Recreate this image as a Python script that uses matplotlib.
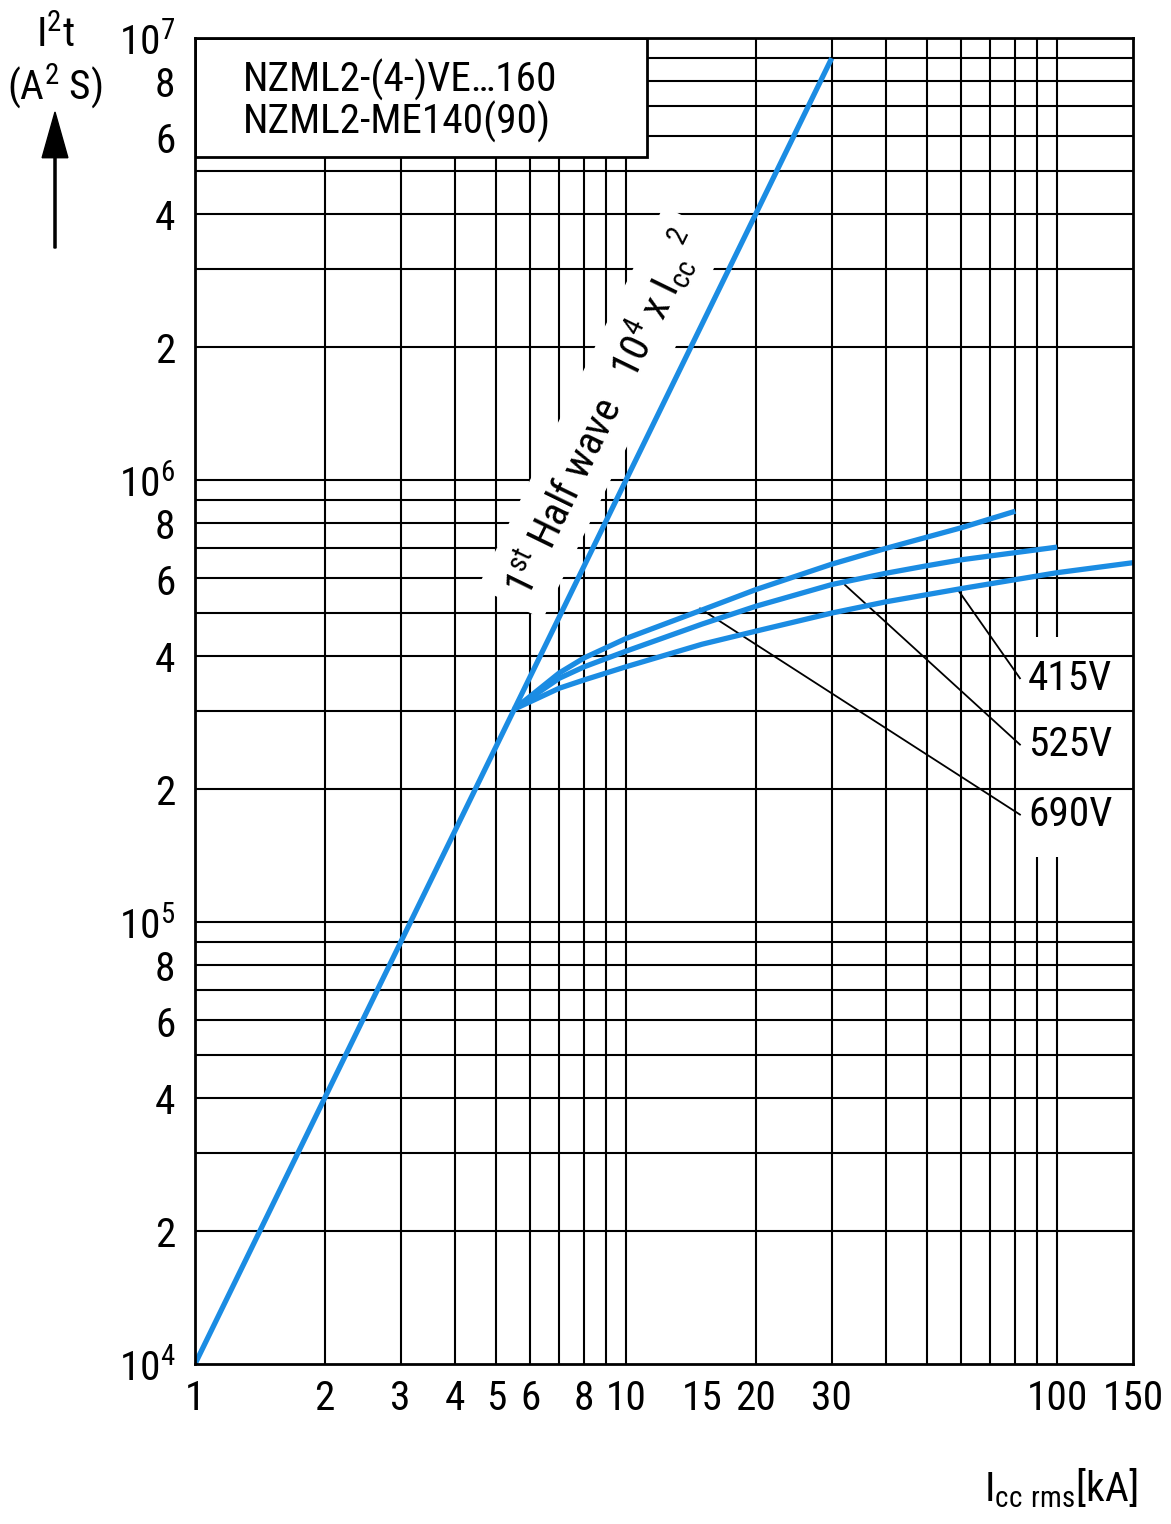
import matplotlib
matplotlib.use("Agg")
import matplotlib.pyplot as plt
from matplotlib import font_manager
from matplotlib.patches import Rectangle, FancyArrow
from matplotlib.ticker import NullLocator
import matplotlib.transforms as mtransforms

# ---------------- data ----------------
x_ticks = [1, 2, 3, 4, 5, 6, 8, 10, 15, 20, 30, 100, 150]
x_tick_labels = ["1", "2", "3", "4", "5", "6", "8", "10", "15", "20", "30", "100", "150"]
y_ticks = [1e4, 2e4, 4e4, 6e4, 8e4, 1e5, 2e5, 4e5, 6e5, 8e5, 1e6, 2e6, 4e6, 6e6, 8e6, 1e7]
y_tick_labels = [r"$\mathregular{10^4}$", "2", "4", "6", "8",
                 r"$\mathregular{10^5}$", "2", "4", "6", "8",
                 r"$\mathregular{10^6}$", "2", "4", "6", "8",
                 r"$\mathregular{10^7}$"]

x_grid = [2, 3, 4, 5, 6, 7, 8, 9, 10, 20, 30, 40, 50, 60, 70, 80, 90, 100]
x_grid_broken = [90, 100]
y_grid = [m * 10 ** e for e in (4, 5, 6) for m in range(1, 10)][1:]

half_wave_x = [1, 30]
half_wave_y = [1e4, 9e6]

v690_x = [5.5, 7, 8, 10, 15, 20, 30, 40, 50, 60, 80]
v690_y = [3.03e5, 3.66e5, 3.96e5, 4.38e5, 5.08e5, 5.65e5, 6.45e5, 7.0e5, 7.43e5, 7.8e5, 8.5e5]

v525_x = [5.5, 7, 8, 10, 15, 20, 30, 40, 50, 60, 100]
v525_y = [3.03e5, 3.56e5, 3.78e5, 4.1e5, 4.72e5, 5.18e5, 5.8e5, 6.15e5, 6.4e5, 6.6e5, 7.05e5]

v415_x = [5.5, 7, 8, 10, 15, 20, 30, 40, 60, 100, 150]
v415_y = [3.03e5, 3.38e5, 3.53e5, 3.78e5, 4.25e5, 4.55e5, 5.0e5, 5.3e5, 5.68e5, 6.17e5, 6.5e5]

labels = ["415V", "525V", "690V"]
leader_start = [(58.9, 5.64e5), (32.2, 5.79e5), (14.85, 5.12e5)]
leader_end = [(82, 3.56e5), (82, 2.52e5), (82, 1.75e5)]

title_lines = ["NZML2-(4-)VE…160", "NZML2-ME140(90)"]

# ---------------- fonts ----------------
entries = font_manager.fontManager.ttflist
names = {f.name for f in entries}
FONT, STRETCH, scale = "Liberation Sans", "normal", 1.0
if "Liberation Sans Narrow" in names:
    FONT, STRETCH, scale = "Liberation Sans Narrow", "normal", 1.12
elif "Roboto Condensed" in names:
    FONT, STRETCH, scale = "Roboto Condensed", "normal", 1.12
elif any(f.name == "DejaVu Sans" and f.stretch == "condensed" for f in entries):
    FONT, STRETCH, scale = "DejaVu Sans", "condensed", 1.0
plt.rcParams["font.family"] = [FONT, "DejaVu Sans"]
plt.rcParams["font.stretch"] = STRETCH
plt.rcParams["mathtext.fontset"] = "custom"
plt.rcParams["mathtext.rm"] = FONT if STRETCH == "normal" else FONT + ":stretch=condensed"

FS_TICK = 26.5 * scale
FS_TEXT = 26.5 * scale

BLUE = "#1b8ce3"
GRID_LW = 1.5

fig = plt.figure(figsize=(11.71, 15.24), dpi=100)
ax = fig.add_axes([195 / 1171, 1 - 1364 / 1524, 938 / 1171, 1326 / 1524])
ax.set_xscale("log")
ax.set_yscale("log")
ax.set_xlim(1, 150)
ax.set_ylim(1e4, 1e7)
ax.xaxis.set_minor_locator(NullLocator())
ax.yaxis.set_minor_locator(NullLocator())
ax.set_xticks(x_ticks)
ax.set_xticklabels(x_tick_labels, fontsize=FS_TICK)
ax.set_yticks([])
ax.tick_params(axis="x", length=0, pad=11)
for s in ax.spines.values():
    s.set_linewidth(2.0)
    s.set_zorder(6)

# y tick labels (slightly below their grid lines, as in the original)
off = mtransforms.ScaledTranslation(0, -5 / 100, fig.dpi_scale_trans)
ytrans = ax.get_yaxis_transform() + off
for v, lab in zip(y_ticks, y_tick_labels):
    ax.text(-0.021, v, lab, transform=ytrans, ha="right", va="center",
            fontsize=FS_TICK, clip_on=False)

# grid
for xv in x_grid:
    if xv in x_grid_broken:
        ax.vlines(xv, 1e4, 1.40e5, color="black", lw=GRID_LW, zorder=1)
        ax.vlines(xv, 4.41e5, 1e7, color="black", lw=GRID_LW, zorder=1)
    else:
        ax.vlines(xv, 1e4, 1e7, color="black", lw=GRID_LW, zorder=1)
ax.hlines(y_grid, 1, 150, color="black", lw=GRID_LW, zorder=1)

# title box
ax.add_patch(Rectangle((0, 1 - 0.0897), 0.482, 0.0897, transform=ax.transAxes,
                       facecolor="white", edgecolor="black", lw=2.0, zorder=5))
ax.text(0.051, 0.9685, title_lines[0], transform=ax.transAxes, fontsize=FS_TEXT,
        ha="left", va="center", zorder=6)
ax.text(0.051, 0.9365, title_lines[1], transform=ax.transAxes, fontsize=FS_TEXT,
        ha="left", va="center", zorder=6)

# curves
ax.plot(half_wave_x, half_wave_y, color=BLUE, lw=3.8, zorder=4, solid_capstyle="butt")
for xs, ys in [(v690_x, v690_y), (v525_x, v525_y), (v415_x, v415_y)]:
    ax.plot(xs, ys, color=BLUE, lw=3.8, zorder=4, solid_capstyle="butt",
            solid_joinstyle="round")

# half-wave label with white band
ax.text(8.85, 1.42e6,
        r"1$\mathregular{^{st}}$ Half wave   10$\mathregular{^4}$ x I$\mathregular{_{cc}}$ $\mathregular{^{2}}$",
        rotation=64, rotation_mode="anchor", ha="center", va="center",
        fontsize=FS_TEXT, zorder=3,
        bbox=dict(boxstyle="square,pad=0.3", facecolor="white", edgecolor="none"))

# leaders and voltage labels
for lab, (x0, y0), (x1, y1) in zip(labels, leader_start, leader_end):
    ax.plot([x0, x1], [y0, y1], color="black", lw=1.3, zorder=3)
    ax.text(x1 * 1.045, y1, lab, fontsize=FS_TEXT, ha="left", va="center", zorder=6)

# axis titles
fig.text(55 / 1171, 1 - 35 / 1524, r"I$\mathregular{^2}$t", fontsize=FS_TEXT,
         ha="center", va="center")
fig.text(55 / 1171, 1 - 86 / 1524, r"(A$\mathregular{^2}$ S)", fontsize=FS_TEXT,
         ha="center", va="center")
fig.patches.append(FancyArrow(55 / 1171, 1 - 248 / 1524, 0, (248 - 112) / 1524,
                              width=0.0018, head_width=0.022, head_length=0.030,
                              length_includes_head=True, color="black",
                              transform=fig.transFigure, figure=fig))
fig.text(1138 / 1171, 1 - 1488 / 1524, r"I$\mathregular{_{cc\ rms}}$[kA]",
         fontsize=FS_TEXT, ha="right", va="center")

fig.savefig("out.png", dpi=100, facecolor="white")
